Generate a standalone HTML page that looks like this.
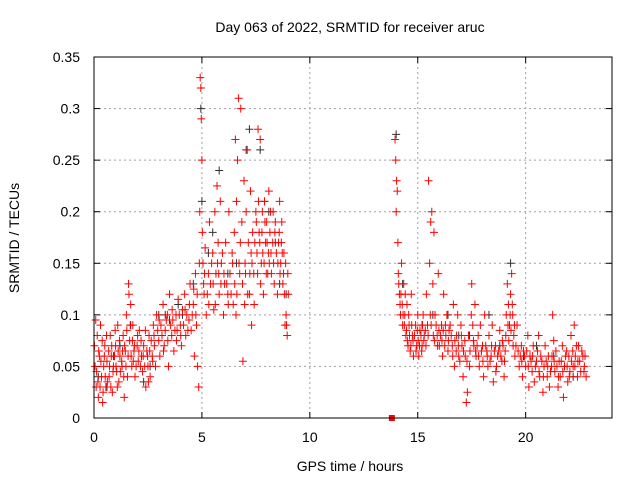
<!DOCTYPE html>
<html><head><meta charset="utf-8"><style>
body{margin:0;background:#fff}
svg{display:block;font-family:"Liberation Sans",sans-serif}
</style></head><body>
<svg id="chart" width="640" height="480">
<rect width="640" height="480" fill="#fff"/>
<text x="350" y="32" font-size="14" text-anchor="middle">Day 063 of 2022, SRMTID for receiver aruc</text>
<text transform="translate(19,238) rotate(-90)" font-size="14" text-anchor="middle">SRMTID / TECUs</text>
<text x="350" y="471" font-size="14" text-anchor="middle">GPS time / hours</text>
<g id="grid"></g>
<g id="axes"></g>
<g id="marks"></g>
<rect x="94" y="57" width="518" height="361" fill="none" stroke="#000" stroke-width="1"/>
</svg>
<script>
const xTicks=[0,5,10,15,20];
const yTicks=[0,0.05,0.1,0.15,0.2,0.25,0.3,0.35];
const yTickLabels=["0","0.05","0.1","0.15","0.2","0.25","0.3","0.35"];
const blackPoints=[[0.2,.04],[0.6,.03],[1.2,.07],[2.3,.035],[3.0,.1],[3.5,.095],[4.1,.1],[4.95,.3],[5.0,.21],[5.3,.16],[5.8,.24],[6.6,.15],[7.05,.26],[7.2,.28],[7.7,.26],[8.1,.2],[8.6,.13],[8.9,.12],[14.0,.275],[14.3,.13],[15.2,.09],[16.4,.1],[17.4,.08],[18.3,.1],[19.3,.15],[20.5,.07],[21.3,.06],[22.2,.04],[0.9,.06],[1.7,.09],[2.6,.05],[3.3,.1],[3.9,.11],[4.6,.13],[5.5,.18],[6.2,.14],[7.9,.21],[8.4,.17],[15.7,.1],[16.9,.08],[18.8,.07],[19.9,.06],[21.8,.05]];
const redPoints=[[0.05,.05],[0.1,.03],[0.15,.08],[0.2,.02],[0.25,.06],[0.3,.09],[0.35,.04],[0.4,.015],[0.45,.05],[0.5,.07],[0.55,.03],[0.6,.055],[0.7,.04],[0.75,.08],[0.8,.06],[0.85,.025],[0.9,.05],[1.0,.07],[1.05,.045],[1.1,.09],[1.15,.035],[1.2,.06],[1.3,.05],[1.35,.08],[1.4,.02],[1.45,.065],[1.5,.1],[1.55,.04],[1.6,.13],[1.65,.075],[1.7,.11],[1.75,.05],[1.8,.09],[1.85,.065],[1.9,.04],[2.0,.07],[2.05,.055],[2.1,.085],[2.2,.06],[2.25,.045],[2.3,.07],[2.4,.03],[2.45,.065],[2.5,.05],[2.55,.08],[2.6,.04],[2.7,.06],[2.75,.09],[2.8,.07],[2.85,.05],[2.9,.1],[3.0,.075],[3.05,.06],[3.1,.09],[3.2,.11],[3.25,.07],[3.3,.085],[3.4,.1],[3.45,.05],[3.5,.12],[3.6,.08],[3.65,.095],[3.7,.065],[3.8,.1],[3.85,.085],[3.9,.115],[4.0,.09],[4.05,.07],[4.1,.105],[4.2,.12],[4.25,.08],[4.3,.1],[4.4,.095],[4.45,.13],[4.5,.085],[4.6,.11],[4.65,.06],[4.7,.14],[4.75,.09],[4.8,.05],[4.85,.03],[4.9,.2],[4.92,.33],[4.95,.32],[4.97,.29],[5.0,.25],[5.02,.18],[5.05,.15],[5.1,.12],[5.15,.165],[5.2,.1],[5.3,.14],[5.35,.19],[5.4,.13],[5.5,.16],[5.55,.105],[5.6,.2],[5.65,.14],[5.7,.225],[5.75,.17],[5.8,.12],[5.85,.21],[5.9,.15],[6.0,.1],[6.05,.13],[6.1,.17],[6.2,.12],[6.25,.2],[6.3,.14],[6.4,.16],[6.45,.11],[6.5,.18],[6.55,.27],[6.6,.21],[6.65,.25],[6.7,.31],[6.75,.14],[6.8,.3],[6.85,.19],[6.9,.055],[6.95,.23],[7.0,.15],[7.05,.2],[7.1,.26],[7.15,.17],[7.2,.12],[7.25,.22],[7.3,.09],[7.35,.18],[7.4,.14],[7.5,.2],[7.55,.16],[7.6,.28],[7.65,.18],[7.7,.27],[7.75,.15],[7.8,.2],[7.85,.12],[7.9,.21],[7.95,.17],[8.0,.19],[8.05,.14],[8.1,.22],[8.15,.18],[8.2,.16],[8.3,.2],[8.35,.13],[8.4,.19],[8.5,.12],[8.55,.17],[8.6,.21],[8.65,.15],[8.7,.19],[8.75,.13],[8.8,.16],[8.85,.09],[8.9,.1],[8.95,.08],[9.0,.12],
[13.95,.27],[13.98,.25],[14.0,.2],[14.02,.23],[14.05,.22],[14.08,.17],[14.1,.14],[14.15,.12],[14.2,.1],[14.25,.15],[14.3,.09],[14.35,.13],[14.4,.1],[14.45,.08],[14.5,.11],[14.55,.07],[14.6,.09],[14.65,.065],[14.7,.12],[14.75,.08],[14.8,.06],[14.9,.09],[14.95,.07],[15.0,.1],[15.05,.06],[15.1,.085],[15.2,.07],[15.25,.1],[15.3,.08],[15.4,.12],[15.45,.09],[15.5,.23],[15.55,.15],[15.6,.19],[15.65,.2],[15.7,.13],[15.75,.18],[15.8,.1],[15.9,.08],[15.95,.14],[16.0,.07],[16.1,.09],[16.15,.06],[16.2,.12],[16.3,.08],[16.35,.1],[16.4,.065],[16.5,.09],[16.6,.07],[16.65,.11],[16.7,.05],[16.8,.08],[16.85,.1],[16.9,.06],[17.0,.09],[17.05,.07],[17.1,.04],[17.2,.06],[17.25,.015],[17.3,.025],[17.35,.08],[17.4,.05],[17.5,.13],[17.55,.09],[17.6,.07],[17.65,.11],[17.7,.06],[17.8,.08],[17.85,.05],[17.9,.09],[18.0,.07],[18.05,.04],[18.1,.1],[18.2,.065],[18.25,.05],[18.3,.08],[18.4,.06],[18.45,.09],[18.5,.035],[18.6,.07],[18.65,.05],[18.7,.06],[18.8,.085],[18.9,.055],[18.95,.07],[19.0,.04],[19.05,.065],[19.1,.1],[19.15,.13],[19.2,.11],[19.25,.09],[19.3,.12],[19.35,.14],[19.4,.1],[19.45,.08],[19.5,.06],[19.6,.09],[19.7,.05],[19.8,.07],[19.85,.04],[19.9,.065],[20.0,.05],[20.1,.08],[20.15,.03],[20.2,.06],[20.3,.045],[20.35,.07],[20.4,.035],[20.5,.055],[20.6,.08],[20.65,.04],[20.7,.06],[20.8,.025],[20.85,.05],[20.9,.07],[21.0,.04],[21.05,.06],[21.1,.03],[21.2,.05],[21.25,.1],[21.3,.075],[21.35,.045],[21.4,.065],[21.5,.03],[21.55,.055],[21.6,.04],[21.7,.07],[21.75,.02],[21.8,.05],[21.9,.065],[21.95,.035],[22.0,.06],[22.05,.045],[22.1,.08],[22.2,.05],[22.25,.09],[22.3,.06],[22.4,.04],[22.45,.07],[22.5,.055],[22.6,.065],[22.7,.045],[22.75,.06]];
const redPointsExtra=[[0.02,.07],[0.08,.095],[0.12,.045],[0.18,.035],[0.22,.065],[0.28,.03],[0.32,.055],[0.38,.075],[0.42,.025],[0.48,.06],[0.52,.04],[0.58,.08],[0.62,.035],[0.68,.065],[0.72,.05],[0.78,.03],[0.82,.07],[0.88,.045],[0.95,.06],[0.98,.085],[1.02,.05],[1.08,.03],[1.12,.065],[1.18,.075],[1.22,.045],[1.28,.055],[1.32,.065],[1.38,.04],[1.42,.07],[1.48,.05],[1.52,.085],[1.58,.06],[1.62,.12],[1.68,.09],[1.72,.06],[1.78,.075],[1.82,.055],[1.88,.07],[1.95,.05],[2.02,.08],[2.08,.065],[2.15,.05],[2.18,.075],[2.28,.06],[2.35,.05],[2.38,.085],[2.48,.06],[2.52,.035],[2.58,.065],[2.65,.075],[2.72,.055],[2.78,.08],[2.95,.085],[3.02,.095],[3.15,.08],[3.22,.065],[3.35,.095],[3.42,.075],[3.55,.09],[3.62,.105],[3.75,.085],[3.82,.075],[3.95,.1],[4.02,.08],[4.15,.09],[4.22,.105],[4.35,.085],[4.42,.11],[4.55,.1],[4.62,.125],[4.72,.1],[4.78,.12],[4.88,.15],[5.08,.13],[5.12,.14],[5.25,.12],[5.32,.11],[5.45,.15],[5.52,.13],[5.62,.11],[5.72,.15],[5.78,.14],[5.88,.13],[5.95,.16],[6.02,.14],[6.15,.13],[6.22,.11],[6.35,.12],[6.42,.15],[6.52,.13],[6.58,.1],[6.62,.12],[6.72,.15],[6.78,.17],[6.88,.13],[6.98,.11],[7.02,.14],[7.12,.12],[7.22,.14],[7.28,.16],[7.32,.15],[7.42,.11],[7.45,.17],[7.52,.19],[7.58,.14],[7.62,.21],[7.68,.17],[7.72,.13],[7.78,.18],[7.82,.16],[7.88,.15],[7.92,.19],[7.98,.14],[8.02,.17],[8.08,.16],[8.12,.15],[8.18,.2],[8.22,.14],[8.28,.17],[8.32,.15],[8.38,.18],[8.45,.16],[8.52,.15],[8.58,.18],[8.62,.14],[8.68,.17],[8.72,.16],[8.78,.14],[8.82,.12],[8.88,.15],[8.92,.09],[8.98,.14],
[14.12,.13],[14.18,.11],[14.22,.12],[14.28,.11],[14.32,.1],[14.38,.09],[14.42,.12],[14.48,.085],[14.52,.075],[14.58,.1],[14.62,.08],[14.68,.07],[14.72,.09],[14.78,.075],[14.85,.08],[14.92,.065],[14.98,.085],[15.02,.075],[15.08,.07],[15.15,.08],[15.18,.065],[15.22,.09],[15.28,.075],[15.35,.085],[15.38,.07],[15.48,.08],[15.58,.1],[15.62,.09],[15.72,.08],[15.78,.075],[15.85,.09],[15.92,.07],[15.98,.085],[16.05,.08],[16.12,.075],[16.18,.085],[16.25,.07],[16.28,.09],[16.42,.075],[16.45,.085],[16.55,.08],[16.62,.06],[16.72,.075],[16.78,.065],[16.88,.07],[16.95,.055],[17.02,.08],[17.12,.065],[17.18,.075],[17.28,.055],[17.42,.065],[17.48,.1],[17.58,.075],[17.68,.065],[17.75,.07],[17.82,.06],[17.95,.065],[18.02,.055],[18.15,.07],[18.22,.06],[18.35,.055],[18.42,.07],[18.55,.065],[18.62,.045],[18.75,.065],[18.85,.06],[18.92,.075],[19.02,.055],[19.08,.08],[19.18,.09],[19.22,.075],[19.28,.1],[19.32,.085],[19.38,.11],[19.42,.07],[19.48,.09],[19.55,.07],[19.65,.065],[19.75,.06],[19.82,.055],[19.95,.06],[20.05,.065],[20.12,.05],[20.25,.055],[20.32,.06],[20.45,.05],[20.55,.065],[20.62,.045],[20.75,.055],[20.82,.04],[20.95,.055],[21.02,.05],[21.15,.045],[21.22,.06],[21.32,.055],[21.45,.05],[21.52,.04],[21.65,.055],[21.72,.045],[21.85,.06],[21.92,.05],[22.02,.04],[22.12,.055],[22.18,.065],[22.28,.05],[22.35,.07],[22.42,.055],[22.55,.045],[22.65,.06],[22.72,.05],[22.8,.04]];
const gapMarker=[[13.8,0]];

const NS="http://www.w3.org/2000/svg";
const L=94,R=612,T=57,B=418,XMAX=24,YMAX=0.35;
function xs(v){return L+v/XMAX*(R-L);}
function ys(v){return B-v/YMAX*(B-T);}
function mk(tag,attrs,parent){const e=document.createElementNS(NS,tag);for(const k in attrs)e.setAttribute(k,attrs[k]);parent.appendChild(e);return e;}
const grid=document.getElementById('grid'),axes=document.getElementById('axes'),marks=document.getElementById('marks');
xTicks.forEach(t=>{
  const x=xs(t);
  if(t>0){const g=mk('line',{x1:x,x2:x,y1:T,y2:B,stroke:'#a0a0a0','stroke-dasharray':'2,3'},grid);
  
  }
  mk('line',{x1:x,x2:x,y1:B,y2:B-6,stroke:'#000'},axes);
  mk('line',{x1:x,x2:x,y1:T,y2:T+6,stroke:'#000'},axes);
  const tx=mk('text',{x:x,y:B+24,'font-size':14,'text-anchor':'middle'},axes);
  tx.textContent=t;
  
  
});
yTicks.forEach((t,i)=>{
  const y=ys(t);
  if(i>0&&i<yTicks.length-1){const g=mk('line',{x1:L,x2:R,y1:y,y2:y,stroke:'#a0a0a0','stroke-dasharray':'2,3'},grid);
  
  }
  mk('line',{x1:L,x2:L+6,y1:y,y2:y,stroke:'#000'},axes);
  mk('line',{x1:R,x2:R-6,y1:y,y2:y,stroke:'#000'},axes);
  const tx=mk('text',{x:80,y:y+5,'font-size':14,'text-anchor':'end'},axes);
  tx.textContent=yTickLabels[i];
  
  
});
function plus(p,color,name){
  const x=xs(p[0]),y=ys(p[1]);
  const e=mk('path',{d:`M${x-4} ${y}H${x+4}M${x} ${y-4}V${y+4}`,stroke:color,'stroke-width':1,fill:'none'},marks);
  
  
}
blackPoints.forEach(p=>plus(p,'#303030','black-point'));
redPoints.forEach(p=>plus(p,'#ff0000','red-point'));
redPointsExtra.forEach(p=>plus(p,'#ff0000','red-point'));
gapMarker.forEach(p=>{
  const e=mk('rect',{x:xs(p[0])-3,y:ys(p[1])-3,width:6,height:6,fill:'#ff0000'},marks);
  
  
});
</script>
</body></html>
